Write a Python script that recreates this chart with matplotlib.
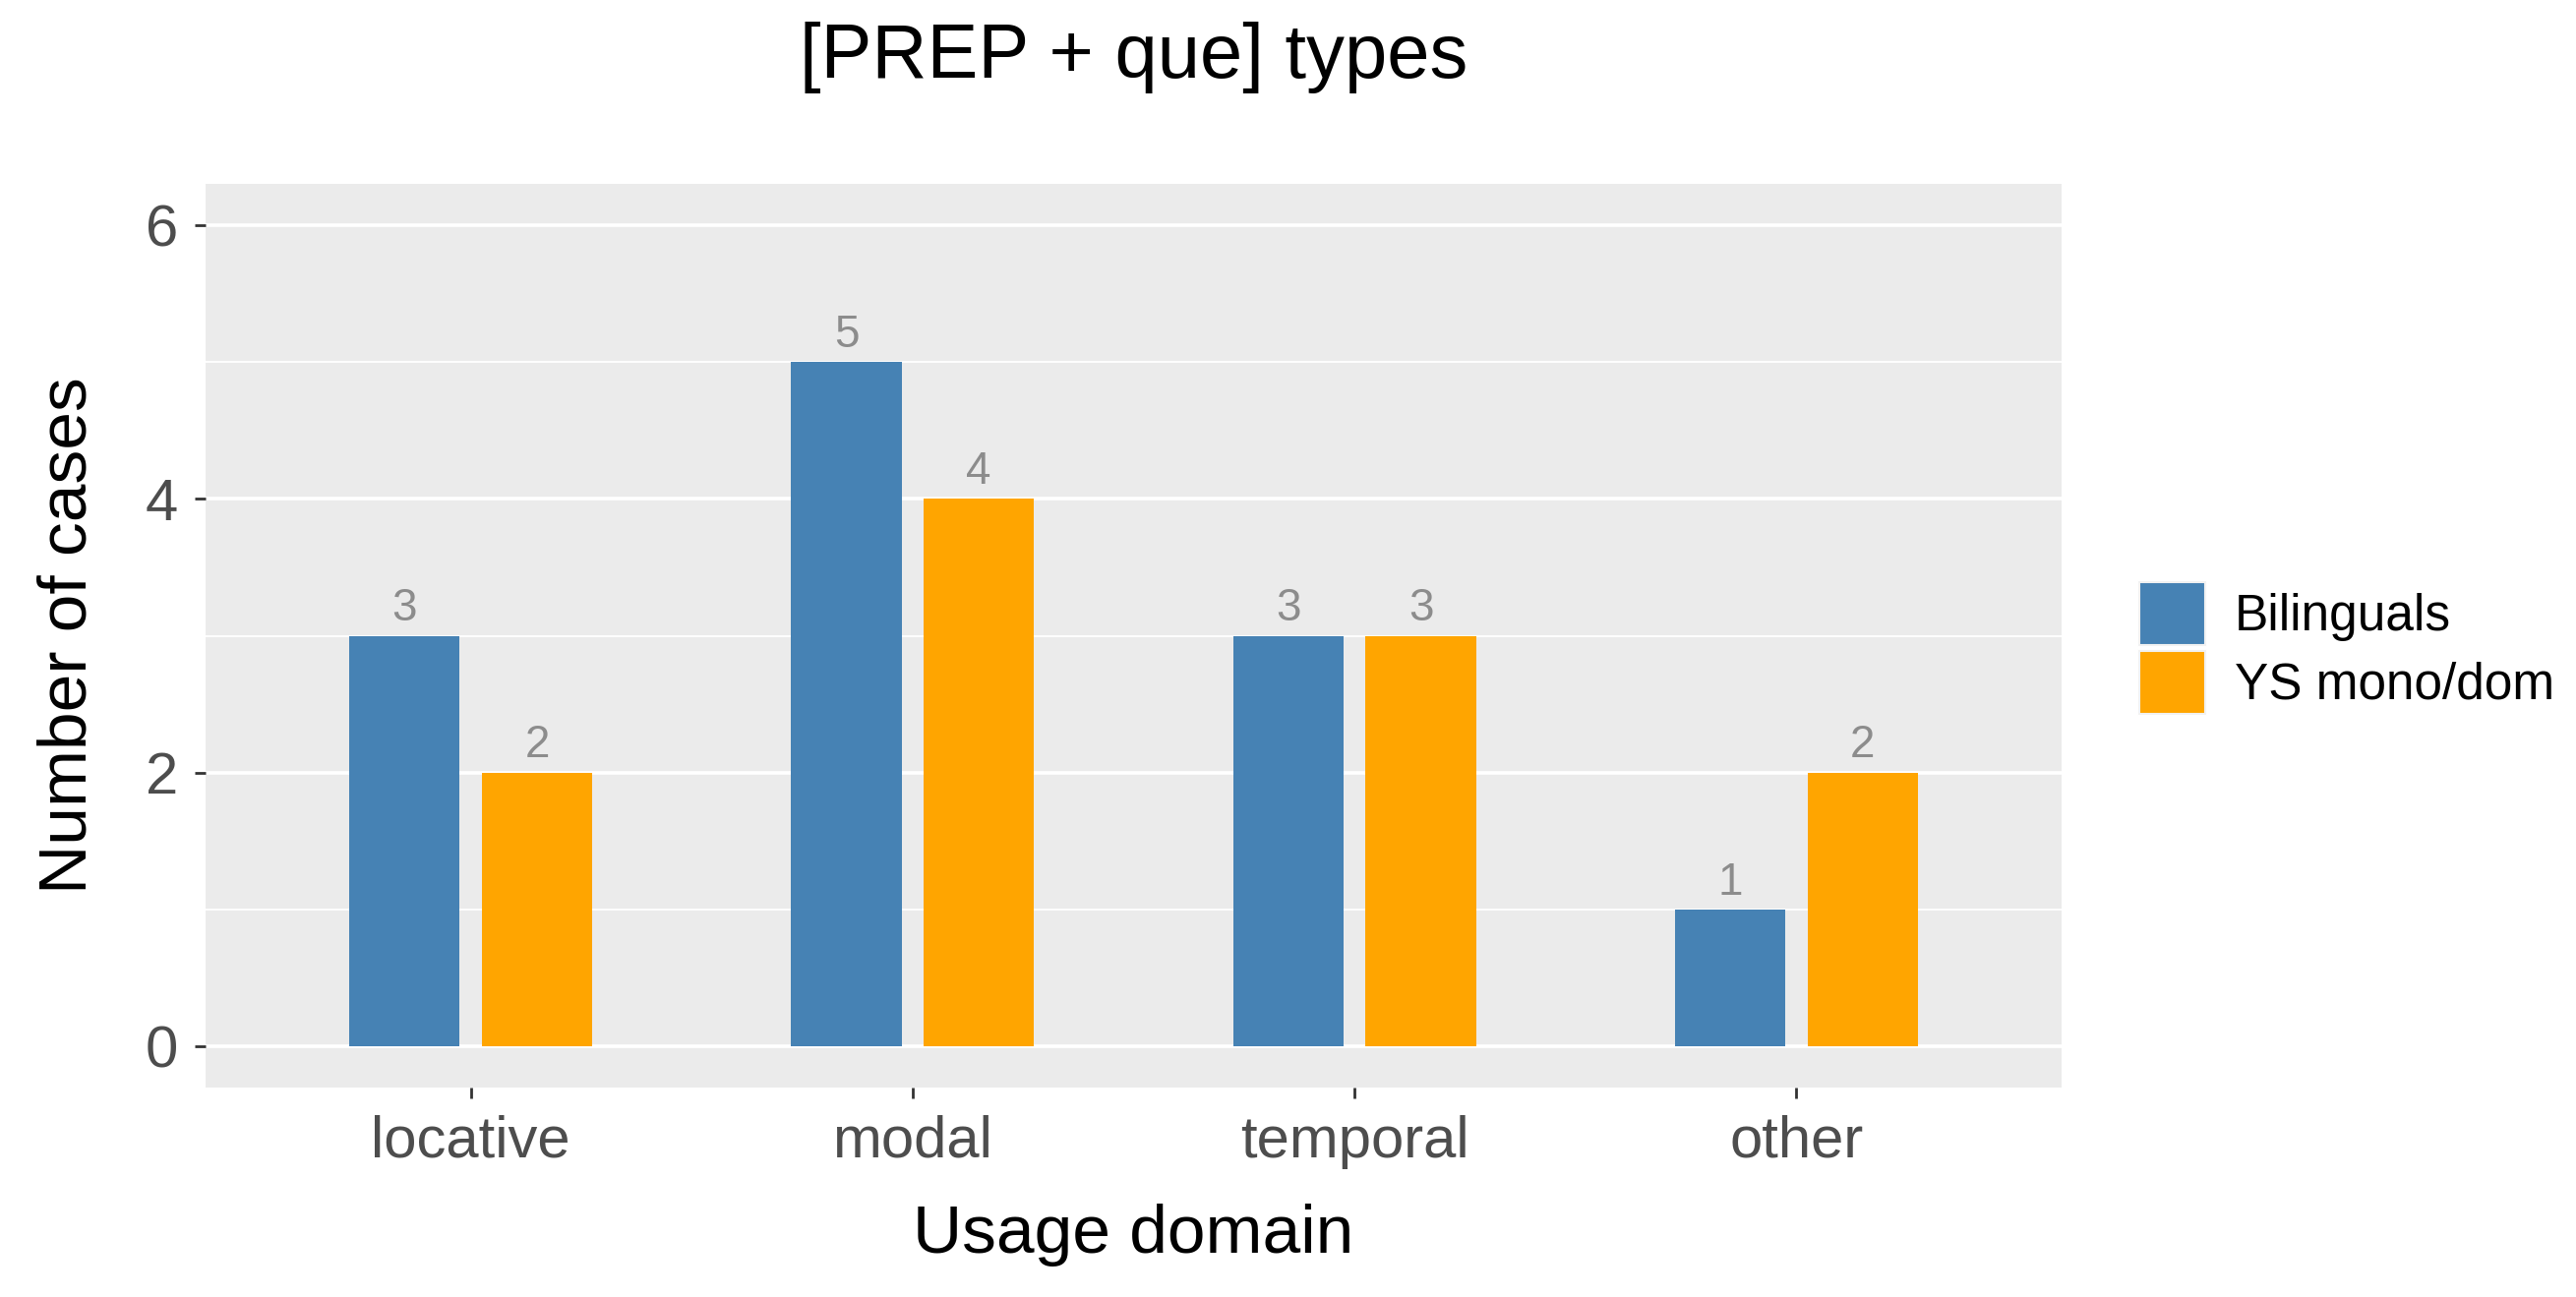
import matplotlib
matplotlib.use('Agg')
import matplotlib.pyplot as plt
import numpy as np
from matplotlib.patches import Patch

plt.rcParams['font.family'] = ['Liberation Sans', 'DejaVu Sans']

# data
domains = ['locative', 'modal', 'temporal', 'other']
bilinguals = [3, 5, 3, 1]
ys_mono = [2, 4, 3, 2]
groups = ['Bilinguals', 'YS mono/dom']
colors = ['#4682B4', '#FFA500']

fig = plt.figure(figsize=(26.19, 13.19), dpi=100)
ax = fig.add_axes([0.0798, 0.1615, 0.8003 - 0.0798, 0.8582 - 0.1615])
ax.set_facecolor('#EBEBEB')

x = np.arange(1, len(domains) + 1)
w = 0.25
for vals, off, c in [(bilinguals, -0.15, colors[0]), (ys_mono, 0.15, colors[1])]:
    ax.bar(x + off, vals, width=w, color=c, zorder=3)
    for xi, v in zip(x, vals):
        ax.text(xi + off, v + 0.11, str(v), ha='center', va='baseline',
                fontsize=33, color='#8C8C8C', zorder=4)

ax.set_xlim(0.4, 4.6)
ax.set_ylim(-0.3, 6.3)
ax.set_yticks([0, 2, 4, 6])
ax.set_yticks([1, 3, 5], minor=True)
ax.set_xticks(x)
ax.set_xticklabels(domains)
ax.grid(which='major', axis='y', color='white', linewidth=2.6, zorder=1)
ax.grid(which='minor', axis='y', color='white', linewidth=1.3, zorder=1)
ax.tick_params(which='major', labelsize=43, labelcolor='#4D4D4D', color='#333333',
               length=8, width=2, pad=12)
ax.tick_params(which='minor', length=0)
for s in ax.spines.values():
    s.set_visible(False)

# 제목과 축 레이블
cx = (0.0798 + 0.8003) / 2
fig.text(cx, 0.956, '[PREP + que] types', ha='center', va='center', fontsize=56)
fig.text(cx, 0.048, 'Usage domain', ha='center', va='center', fontsize=50)
fig.text(0.0267, 0.51, 'Number of cases', ha='center', va='center',
         rotation=90, fontsize=50)

# 범례
handles = [Patch(facecolor=c, edgecolor='#F2F2F2', linewidth=1.5) for c in colors]
fig.legend(handles, groups, loc='center left', bbox_to_anchor=(0.8305, 0.5004),
           frameon=False, fontsize=37, handlelength=1.3, handleheight=1.55,
           handletextpad=0.58, labelspacing=0.1, borderpad=0, borderaxespad=0)

fig.savefig('out.png', dpi=100)
